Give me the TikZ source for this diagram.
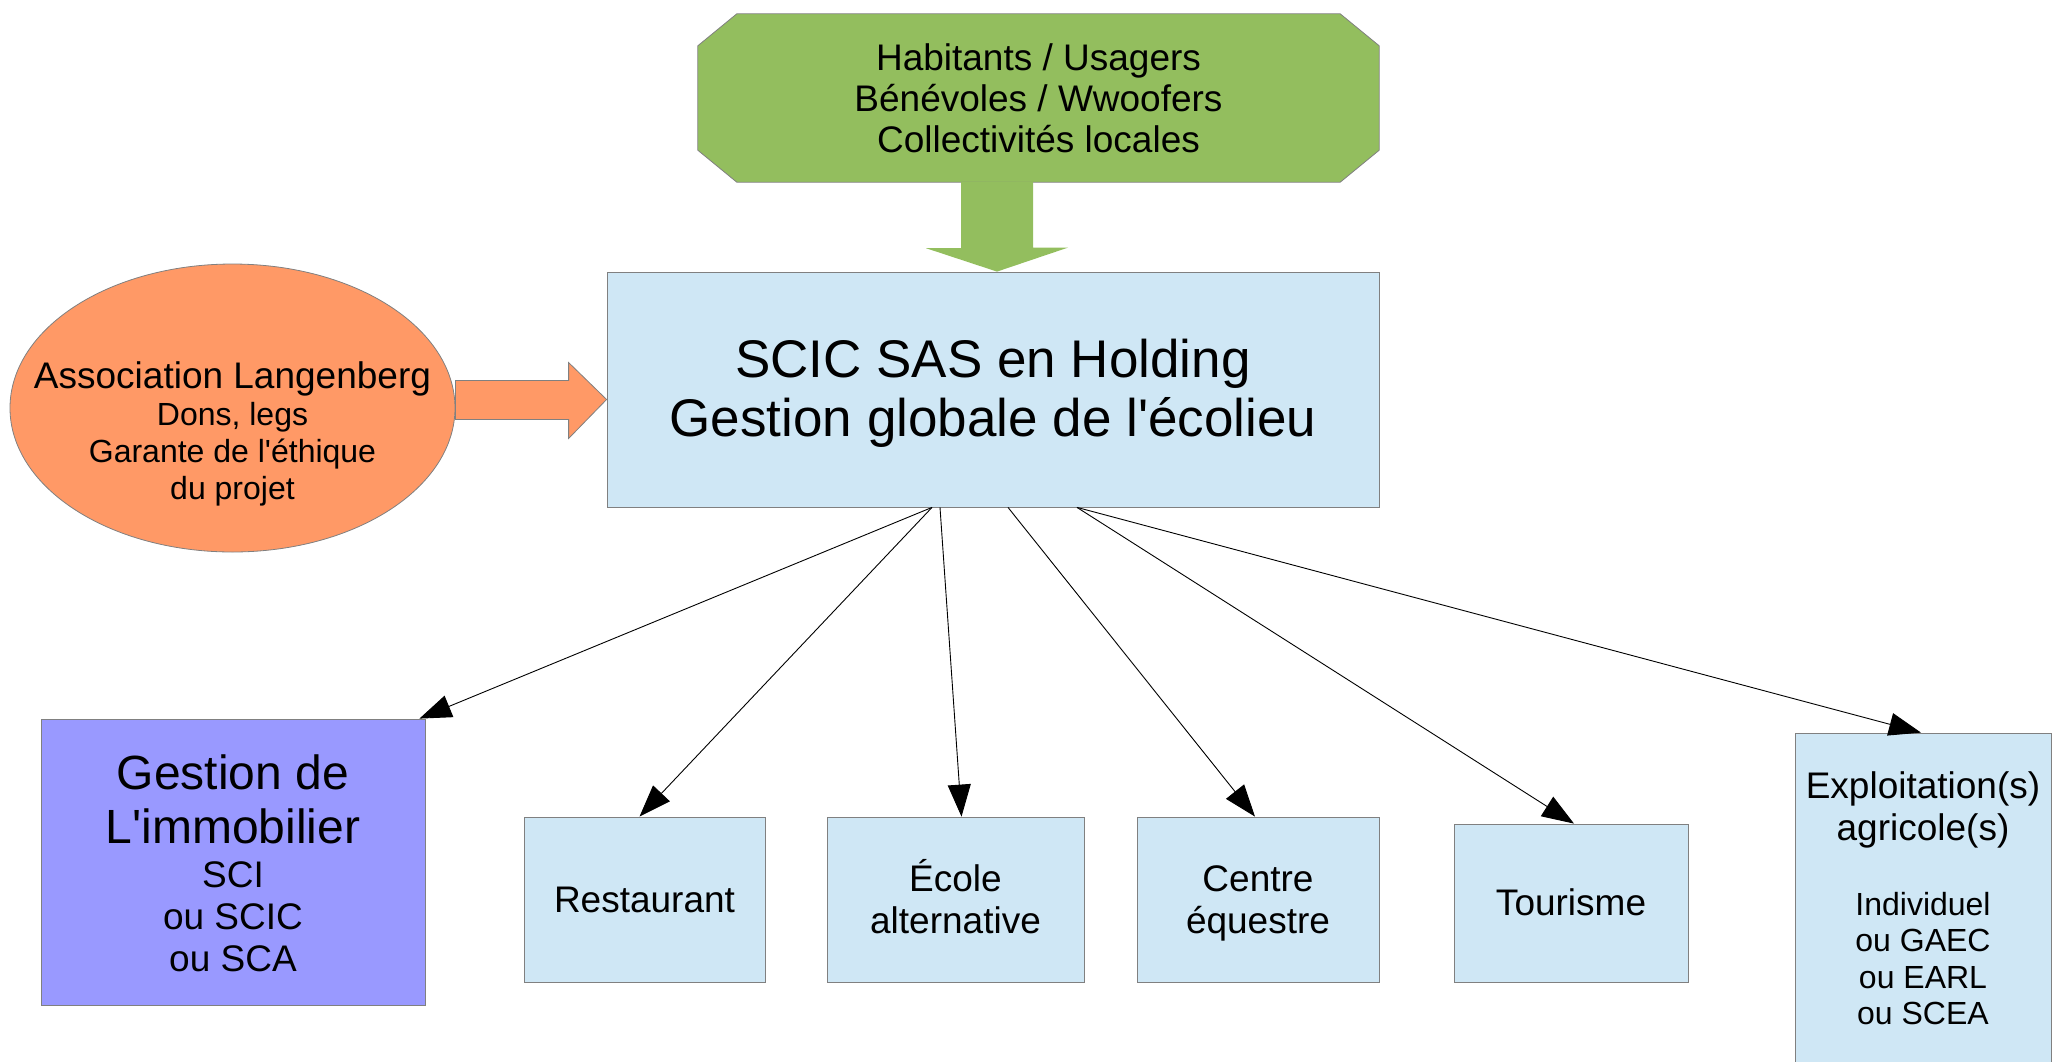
\documentclass[tikz,border=0pt]{standalone}
\usepackage{fontspec}
\setmainfont{Liberation Sans}
\usetikzlibrary{shapes.geometric,arrows.meta,backgrounds}

\definecolor{usergreen}{RGB}{147,190,94}
\definecolor{assocorange}{RGB}{255,153,102}
\definecolor{boxblue}{RGB}{207,231,245}
\definecolor{immopurple}{RGB}{153,153,255}
\definecolor{edgegray}{RGB}{128,128,128}

\newcommand{\bigline}{\fontsize{48}{54}\selectfont}
\newcommand{\midline}{\fontsize{37}{42}\selectfont}
\newcommand{\smallline}{\fontsize{32}{36.5}\selectfont}
% line boxes as the office program sets them
\newcommand{\topstrut}{\rule{0pt}{0.905em}}
\newcommand{\botstrut}{\rule[-0.212em]{0pt}{0.212em}}
\newcommand{\lift}[1]{\rule{0pt}{#1}}

\begin{document}
\begin{tikzpicture}[x=1pt,y=-1pt,
		txt/.style={align=center, inner sep=0pt, font=\midline, execute at begin node=\topstrut, execute at end node=\botstrut},
		box/.style={txt, draw=edgegray, fill=boxblue, line width=0.8pt},
		link/.style={-{Triangle[length=32pt,width=23pt]}, line width=0.9pt}]
			\useasboundingbox (0,0) rectangle (2065,1061);
			% top: who takes part
			\node[txt, minimum width=681pt, minimum height=168pt, font=\fontsize{37}{41}\selectfont] (users) at (1038.5,98) {\lift{35pt}Habitants / Usagers\\Bénévoles / Wwoofers\\Collectivités locales};
			\begin{scope}[on background layer]
				\filldraw[fill=usergreen, draw=edgegray, line width=0.8pt] ([xshift=39pt]users.north west) -- ([xshift=-39pt]users.north east) -- ([yshift=-32pt]users.north east) -- ([yshift=32pt]users.south east) -- ([xshift=-39pt]users.south east) -- ([xshift=39pt]users.south west) -- ([yshift=32pt]users.south west) -- ([yshift=-32pt]users.north west) -- cycle;
			\end{scope}
			% holding
			\node[box, minimum width=772pt, minimum height=235pt, font=\fontsize{53}{59}\selectfont] (main) at (993,389.5) {\lift{47pt}SCIC SAS en Holding\\Gestion globale de l\textquotesingle écolieu};
			\node[ellipse, draw=edgegray, fill=assocorange, line width=0.8pt, inner sep=0pt, minimum width=445pt, minimum height=288pt,
				label={[txt, font=\fontsize{32}{37}\selectfont, yshift=-26pt]center:\midline Association Langenberg\\Dons, legs\\Garante de l\textquotesingle éthique\\du projet}] (assoc) at (232.5,408) {};
			% block arrows
			\coordinate (gtip) at ([xshift=4pt]main.north);
			\fill[usergreen] (gtip |- users.south) ++(-36,0) -- ++(0,66) -- ++(-35,0) -- (gtip) -- ++(71,-24) -- ++(-35,0) -- ++(0,-66) -- cycle;
			\coordinate (otip) at ([yshift=-10pt]main.west);
			\coordinate (obase) at (assoc.east |- otip);
			\filldraw[fill=assocorange, draw=edgegray, line width=0.8pt] (otip) -- ++(-38,-37) -- ++(0,18) -- ([yshift=19pt]obase) -- ([yshift=-20pt]obase) -- ([xshift=-38pt,yshift=-20pt]otip) -- ++(0,19) -- cycle;
			% the branches
			\node[box, fill=immopurple, minimum width=384pt, minimum height=286pt, font=\bigline] (immo) at (233,862) {\lift{48pt}Gestion de\\L\textquotesingle immobilier\\[-10.5pt]\midline SCI\\[-11.5pt]\midline ou SCIC\\[-12pt]\midline ou SCA};
			\node[box, minimum width=241pt, minimum height=165pt] (resto) at (644.5,899.5) {Restaurant};
			\node[box, minimum width=257pt, minimum height=165pt] (ecole) at (955.5,899.5) {\lift{34pt}École\\alternative};
			\node[box, minimum width=242pt, minimum height=165pt] (centre) at (1258,899.5) {\lift{34pt}Centre\\équestre};
			\node[box, minimum width=234pt, minimum height=158pt] (tourisme) at (1571,903) {Tourisme};
			\node[box, minimum width=256pt, minimum height=338pt] (agri) at (1923,902) {Exploitation(s)\\agricole(s)\\[33pt]\smallline Individuel\\[-5.5pt]\smallline ou GAEC\\[-5.5pt]\smallline ou EARL\\[-5.5pt]\smallline ou SCEA};
			% links
			\draw[link] ([xshift=-61pt]main.south) -- ([xshift=-6pt]immo.north east);
			\draw[link] ([xshift=-61pt]main.south) -- ([xshift=-5pt]resto.north);
			\draw[link] ([xshift=-53pt]main.south) -- ([xshift=6pt]ecole.north);
			\draw[link] ([xshift=15pt]main.south) -- ([xshift=-3pt]centre.north);
			\draw[link] ([xshift=84pt]main.south) -- ([xshift=3pt]tourisme.north);
			\draw[link] ([xshift=84pt]main.south) -- ([xshift=-2pt]agri.north);
		\end{tikzpicture}
\end{document}
